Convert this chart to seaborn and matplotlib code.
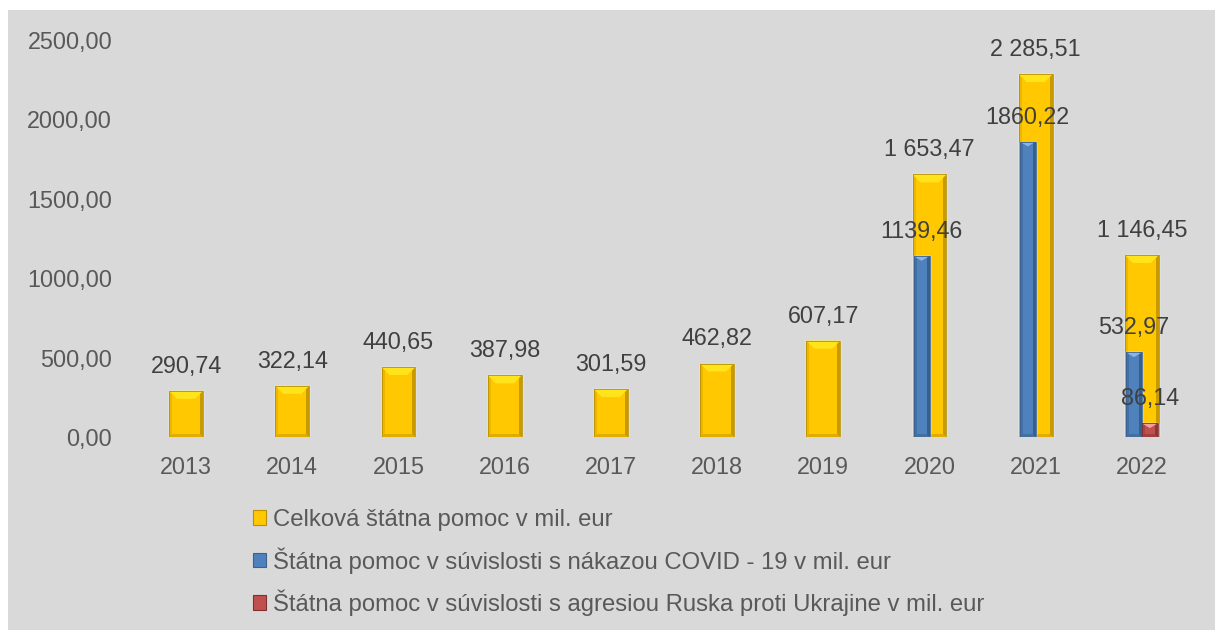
import numpy as np
import pandas as pd
import matplotlib
matplotlib.use("Agg")
import matplotlib.pyplot as plt
from matplotlib.patches import Rectangle, Polygon, Patch
import seaborn as sns

# ---- data ----
years = ["2013", "2014", "2015", "2016", "2017", "2018", "2019", "2020", "2021", "2022"]
total_aid = [290.74, 322.14, 440.65, 387.98, 301.59, 462.82, 607.17, 1653.47, 2285.51, 1146.45]
covid_aid = [np.nan, np.nan, np.nan, np.nan, np.nan, np.nan, np.nan, 1139.46, 1860.22, 532.97]
ukraine_aid = [np.nan, np.nan, np.nan, np.nan, np.nan, np.nan, np.nan, np.nan, np.nan, 86.14]
series_names = [
    "Celková štátna pomoc v mil. eur",
    "Štátna pomoc v súvislosti s nákazou COVID - 19 v mil. eur",
    "Štátna pomoc v súvislosti s agresiou Ruska proti Ukrajine v mil. eur",
]
y_ticks = [0, 500, 1000, 1500, 2000, 2500]

# ---- style ----
sns.set_style("white")
plt.rcParams["font.family"] = ["Liberation Sans", "DejaVu Sans"]
FS = 16.8
TXT = "#595959"
LBL = "#404040"
YEL, BLU, RED = "#FFC800", "#4F81BD", "#C0504D"
# top, right, left, bottom, edge
BEVEL = {
    YEL: ("#FFE41C", "#C99A00", "#EDB700", "#E0AC00", "#B89000"),
    BLU: ("#8DB4E2", "#365F8E", "#426FA6", "#44709F", "#3A628F"),
    RED: ("#F2A09E", "#8E3431", "#A84441", "#A3403D", "#7F2F2D"),
}

W, H = 1215, 630
fig = plt.figure(figsize=(W / 100, H / 100), dpi=100, facecolor="white")
fig.patches.append(Rectangle((8 / W, 0), 1, (H - 10) / H, transform=fig.transFigure,
                             facecolor="#D9D9D9", edgecolor="none", zorder=-10))

ax = fig.add_axes([133 / W, (H - 437) / H, (1195 - 133) / W, (437 - 40) / H])
ax.set_facecolor("none")

# total bars (centered)
df_tot = pd.DataFrame({"year": years, "value": total_aid})
sns.barplot(data=df_tot, x="year", y="value", color=YEL, saturation=1, width=0.32,
            errorbar=None, ax=ax, zorder=2)
tot_bars = list(ax.patches)

# covid / ukraine dodged bars
df_sub = pd.DataFrame({
    "year": years * 2,
    "value": covid_aid + ukraine_aid,
    "series": [series_names[1]] * len(years) + [series_names[2]] * len(years),
})
sns.barplot(data=df_sub, x="year", y="value", hue="series", hue_order=series_names[1:],
            palette=[BLU, RED], saturation=1, width=0.30, dodge=True, errorbar=None,
            legend=False, ax=ax, order=years, zorder=3)
sub_bars = [p for p in ax.patches if p not in tot_bars]

ax.set_ylim(0, 2500)
ax.set_xlim(-0.5, len(years) - 0.5)
ax.set_yticks(y_ticks)
ax.set_yticklabels([f"{v:.2f}".replace(".", ",") for v in y_ticks])
ax.set_xlabel("")
ax.set_ylabel("")
ax.tick_params(axis="both", length=0, labelsize=FS, labelcolor=TXT)
ax.tick_params(axis="y", pad=15)
ax.tick_params(axis="x", pad=14)
for s in ax.spines.values():
    s.set_visible(False)

# bevel effect derived from drawn bars
fig.canvas.draw()
px_x = ax.get_window_extent().width / (len(years))
px_y = ax.get_window_extent().height / 2500.0


def nearest_key(fc):
    return min(BEVEL, key=lambda k: sum(abs(int(k[i:i + 2], 16) - int(fc[i:i + 2], 16)) for i in (1, 3, 5)))


for p in tot_bars + sub_bars:
    h = p.get_height()
    if not np.isfinite(h) or h <= 0:
        continue
    x, y, w = p.get_x(), p.get_y(), p.get_width()
    fc = matplotlib.colors.to_hex(p.get_facecolor()).upper()
    top, right, left, bottom, edge = BEVEL[nearest_key(fc)]
    w_px = w * px_x
    h_px = h * px_y
    dx = min(8.0, w_px / 2) / px_x
    dy = min(8.0, w_px * 0.3, h_px / 2) / px_y
    sx = 3.0 / px_x
    sy = min(3.0, h_px / 4) / px_y
    z = p.get_zorder() + 0.1
    ax.add_patch(Rectangle((x, y), sx, h, facecolor=left, edgecolor="none", zorder=z))
    ax.add_patch(Rectangle((x + w - sx, y), sx, h, facecolor=right, edgecolor="none", zorder=z))
    ax.add_patch(Polygon([(x, y), (x + w, y), (x + w - sx, y + sy), (x + sx, y + sy)],
                         closed=True, facecolor=bottom, edgecolor="none", zorder=z))
    ax.add_patch(Polygon([(x, y + h), (x + w, y + h), (x + w - dx, y + h - dy), (x + dx, y + h - dy)],
                         closed=True, facecolor=top, edgecolor="none", zorder=z + 0.05))
    ax.add_patch(Rectangle((x, y), w, h, facecolor="none", edgecolor=edge, lw=0.6, zorder=z + 0.1))


# data labels
def fmt_total(v):
    return f"{v:,.2f}".replace(",", " ").replace(".", ",")


def fmt_plain(v):
    return f"{v:.2f}".replace(".", ",")


for p in tot_bars:
    h = p.get_height()
    ax.annotate(fmt_total(h), (p.get_x() + p.get_width() / 2, h), xytext=(0, 13),
                textcoords="offset points", ha="center", va="baseline", fontsize=FS,
                color=LBL, zorder=6)
for p in sub_bars:
    h = p.get_height()
    if not np.isfinite(h) or h <= 0:
        continue
    ax.annotate(fmt_plain(h), (p.get_x() + p.get_width() / 2, h), xytext=(0, 13),
                textcoords="offset points", ha="center", va="baseline", fontsize=FS,
                color=LBL, zorder=6)

# legend
handles = [Patch(facecolor=c, edgecolor=BEVEL[c][4], lw=0.8) for c in (YEL, BLU, RED)]
fig.legend(handles, series_names, loc="upper left", bbox_to_anchor=(253 / W, (H - 509) / H),
           frameon=False, fontsize=17.2, labelcolor=TXT, handlelength=0.55, handleheight=0.55,
           handletextpad=0.28, labelspacing=0.67, borderpad=0, borderaxespad=0)

fig.savefig("out.png", dpi=100, facecolor="white")
